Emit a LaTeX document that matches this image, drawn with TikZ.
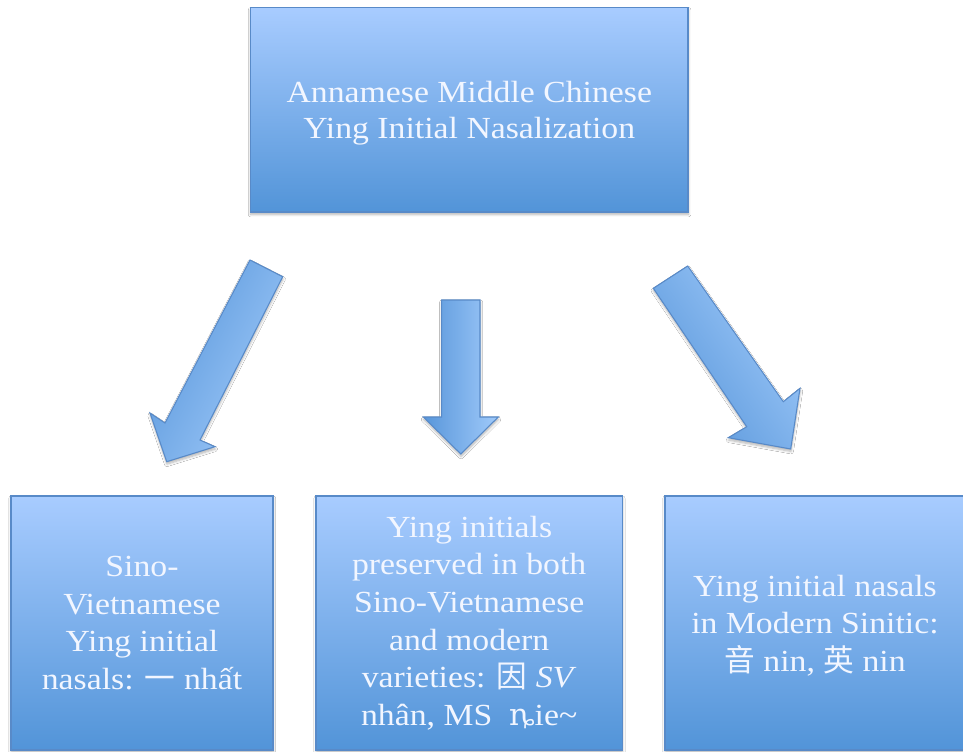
\documentclass[tikz,border=0pt]{standalone}
\usepackage{fontspec}
\setmainfont{Liberation Serif}[FakeStretch=1.1]
\newfontfamily\cjk{Noto Sans CJK SC}
\newfontfamily\ipa{DejaVu Serif}
\usetikzlibrary{shadows.blur}
\definecolor{boxtop}{RGB}{168,204,255}
\definecolor{boxbot}{RGB}{82,148,216}
\definecolor{boxline}{RGB}{88,138,200}
\definecolor{arrdark}{RGB}{88,150,218}
\definecolor{arrlight}{RGB}{160,202,250}
\definecolor{txt}{RGB}{242,246,255}
\tikzset{
  box/.style={rectangle, draw=boxline, line width=1.1pt, top color=boxtop, bottom color=boxbot,
    inner sep=0pt, outer sep=0pt, align=center, text=txt,
    blur shadow={shadow xshift=0.2pt, shadow yshift=-1.8pt, shadow blur steps=6, shadow opacity=30}},
  boxlabel/.style={align=center, text=txt, inner sep=0pt},
  toptext/.style={font=\fontsize{23}{27}\selectfont},
  bottext/.style={font=\fontsize{23}{28.2}\selectfont},
  blockarrow/.style={draw=boxline, line width=0.8pt, line join=miter,
    blur shadow={shadow xshift=0.2pt, shadow yshift=-1.8pt, shadow blur steps=6, shadow opacity=30}}
}
\begin{document}
\begin{tikzpicture}[x=0.75pt, y=-0.75pt]
\useasboundingbox (0,0) rectangle (963,752);
\fill[white] (0,0) rectangle (963,752);

% top box
\node[box, minimum width=328.3pt, minimum height=153.3pt] (top) at (469.3,109.8) {};
\node[boxlabel, toptext] (toplabel) at (469.3,113.5)
  {Annamese Middle Chinese\\Ying Initial Nasalization};

% bottom boxes
\node[box, bottext, minimum width=196.5pt, minimum height=190.5pt] (left) at (142,623)
  {Sino-\\Vietnamese\\Ying initial\\nasals: {\cjk 一} nhất};
\node[box, bottext, minimum width=229.7pt, minimum height=190.5pt] (mid) at (469.2,623)
  {Ying initials\\preserved in both\\Sino-Vietnamese\\and modern\\varieties: {\cjk 因} \textit{SV}\\nhân, MS\ \ {\ipa ȵ}ie\symbol{"7E}};
\node[box, minimum width=225pt, minimum height=190.5pt] (right) at (815,623) {};
\node[boxlabel, bottext] (rightlabel) at (815,625.5)
  {Ying initial nasals\\in Modern Sinitic:\\{\cjk 音} nin, {\cjk 英} nin};

% block arrows
\shadedraw[blockarrow, left color=arrdark, right color=arrlight, shading angle=63]
  (250,260) -- (282.7,276.7) -- (200,440) -- (215,446.7) -- (166.7,461.7)
  -- (150,413) -- (165,423) -- cycle;
\shadedraw[blockarrow, left color=arrdark, right color=arrlight]
  (441.7,300) -- (480,300) -- (480,417) -- (498.3,417) -- (460.8,454)
  -- (423.3,417) -- (441.7,417) -- cycle;
\shadedraw[blockarrow, left color=arrdark, right color=arrlight, shading angle=125]
  (653.3,288.3) -- (687.7,266) -- (783.3,401.7) -- (800,388.3) -- (790.7,449)
  -- (728.3,437.7) -- (746.7,426.7) -- cycle;
\end{tikzpicture}
\end{document}
